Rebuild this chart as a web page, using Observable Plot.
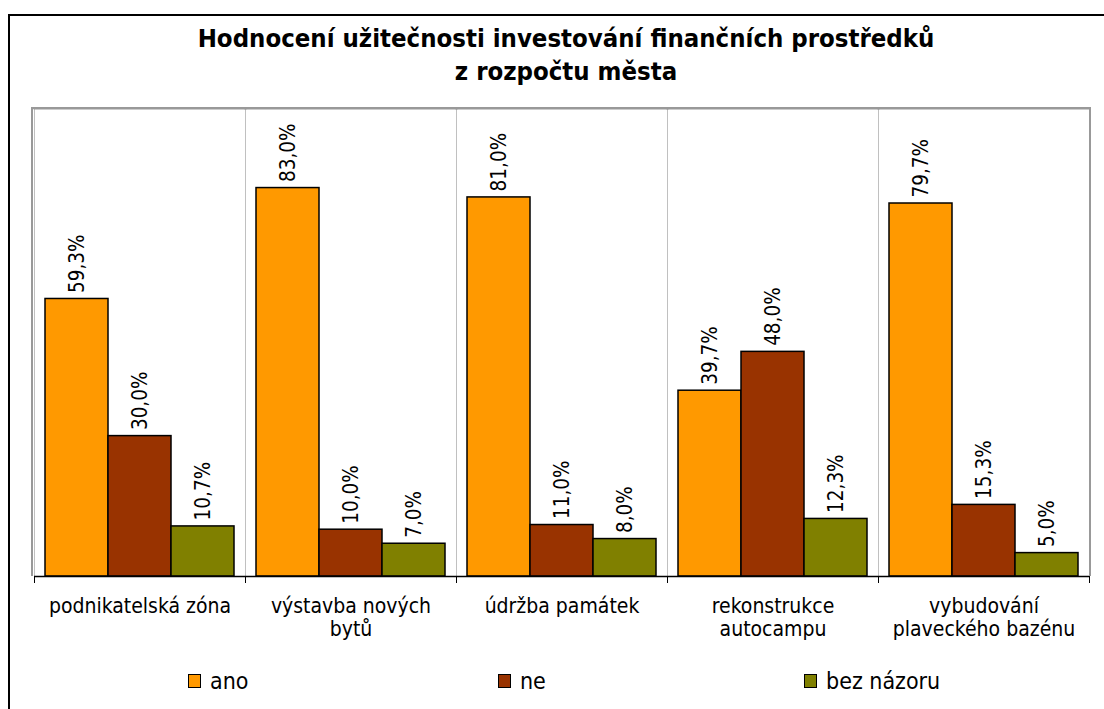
<!DOCTYPE html>
<html><head><meta charset="utf-8">
<script src="https://cdn.jsdelivr.net/npm/d3@7"></script>
<script src="https://cdn.jsdelivr.net/npm/@observablehq/plot@0.6"></script>
<style>
body{margin:0;background:#fff;}
#wrap{position:relative;width:1104px;height:709px;overflow:hidden;font-family:"DejaVu Sans Condensed","DejaVu Sans",sans-serif;background:#fff;}
#frame{position:absolute;left:8px;top:14px;width:1200px;height:800px;border:2px solid #000;box-sizing:border-box;}
#title{position:absolute;left:8px;width:1116px;top:22px;text-align:center;font-weight:bold;font-size:25.5px;line-height:33px;color:#000;}
#chart{position:absolute;left:0;top:0;}
#outer{position:absolute;left:31px;top:107px;width:1060px;height:469px;border:2px solid #999;border-bottom:none;box-sizing:border-box;}
.leg{position:absolute;top:669px;font-size:23px;line-height:24px;color:#000;display:flex;align-items:center;}
.leg span.sw{display:inline-block;width:11px;height:12px;border:1.5px solid #000;margin-right:9px;}
</style></head>
<body>
<div id="wrap">
  <div id="frame"></div>
  <div id="title">Hodnocení užitečnosti investování finančních prostředků<br>z rozpočtu města</div>
  <div id="chart"></div>
  <div id="outer"></div>
  <div id="legend"></div>
</div>
<script>
const categories = ["podnikatelská zóna", "výstavba nových\nbytů", "údržba památek", "rekonstrukce\nautocampu", "vybudování\nplaveckého bazénu"];
const series = ["ano", "ne", "bez názoru"];
const ano = [59.3, 83.0, 81.0, 39.7, 79.7];
const ne = [30.0, 10.0, 11.0, 48.0, 15.3];
const bezNazoru = [10.7, 7.0, 8.0, 12.3, 5.0];
const colors = ["#FF9900", "#993300", "#808000"];

const values = [ano, ne, bezNazoru];
const data = categories.flatMap((c, i) => series.map((s, j) => ({cat: c, s, v: values[j][i]})));
const fmt = v => v.toFixed(1).replace(".", ",") + "%";

const chart = Plot.plot({
  width: 1104, height: 709,
  marginLeft: 32, marginRight: 13, marginTop: 108, marginBottom: 133,
  style: {fontFamily: '"DejaVu Sans Condensed","DejaVu Sans",sans-serif', background: "transparent", color: "#000"},
  fx: {domain: categories, padding: 0, label: null, axis: null},
  x: {domain: series, paddingInner: 0, paddingOuter: 0.156, axis: null},
  y: {domain: [0, 100], axis: null},
  color: {domain: series, range: colors},
  marks: [
    Plot.frame({anchor: "left", stroke: "#c0c0c0"}),
    Plot.frame({anchor: "right", stroke: "#c0c0c0"}),
    Plot.frame({anchor: "top", stroke: "#999", strokeWidth: 2}),
    Plot.barY(data, {fx: "cat", x: "s", y: "v", fill: "s", stroke: "#000", strokeWidth: 1.5}),
    Plot.text(data, {fx: "cat", x: "s", y: "v", text: d => fmt(d.v), rotate: -90, textAnchor: "start", lineAnchor: "middle", dy: -6, fontSize: 20.5, fill: "#000"}),
    Plot.ruleY([0], {stroke: "#000", strokeWidth: 1.5}),
    Plot.frame({anchor: "left", stroke: "#000", insetTop: 468, insetBottom: -6}),
    Plot.frame({anchor: "right", stroke: "#000", insetTop: 468, insetBottom: -6}),
    Plot.axisFx({anchor: "bottom", tickSize: 0, tickPadding: 19, fontSize: 21, lineHeight: 1.14, label: null, lineAnchor: "top"})
  ]
});
document.getElementById("chart").appendChild(chart);

const legPos = [188, 498, 804];
const leg = document.getElementById("legend");
series.forEach((s, i) => {
  const d = document.createElement("div");
  d.className = "leg";
  d.style.left = legPos[i] + "px";
  d.innerHTML = `<span class="sw" style="background:${colors[i]}"></span>${s}`;
  leg.appendChild(d);
});
</script>
</body></html>
